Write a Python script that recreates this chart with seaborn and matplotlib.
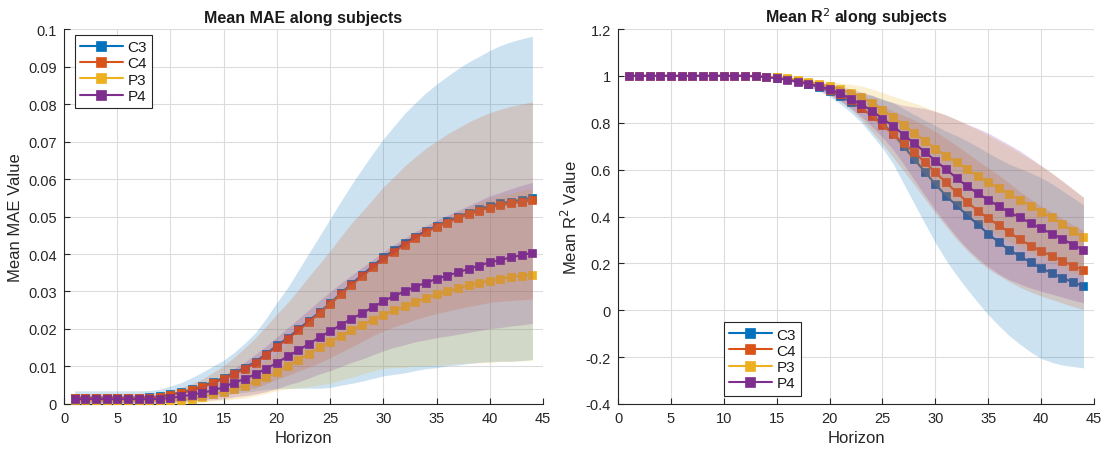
import matplotlib
matplotlib.use("Agg")
import matplotlib.pyplot as plt
from matplotlib.ticker import FuncFormatter
import numpy as np
import pandas as pd
import seaborn as sns

# ---------------- data ----------------
horizon = list(range(1, 45))
channels = ["C3", "C4", "P3", "P4"]
colors = ["#0072BD", "#D95319", "#EDB120", "#7E2F8E"]

# Mean MAE (left panel)
mae_C3 = [0.0017, 0.0017, 0.0017, 0.0017, 0.0017, 0.0017, 0.0017, 0.0018, 0.0020, 0.0026,
          0.0031, 0.0039, 0.0048, 0.0059, 0.0070, 0.0083, 0.0097, 0.0113, 0.0134, 0.0156,
          0.0176, 0.0199, 0.0222, 0.0245, 0.0269, 0.0295, 0.0320, 0.0344, 0.0368, 0.0391,
          0.0410, 0.0429, 0.0446, 0.0462, 0.0475, 0.0488, 0.0499, 0.0510, 0.0519, 0.0528,
          0.0535, 0.0540, 0.0545, 0.0550]
mae_C4 = [0.0016, 0.0016, 0.0016, 0.0016, 0.0016, 0.0016, 0.0016, 0.0017, 0.0019, 0.0024,
          0.0029, 0.0036, 0.0045, 0.0056, 0.0067, 0.0080, 0.0094, 0.0110, 0.0131, 0.0153,
          0.0173, 0.0196, 0.0219, 0.0242, 0.0266, 0.0292, 0.0317, 0.0340, 0.0364, 0.0387,
          0.0406, 0.0425, 0.0442, 0.0458, 0.0471, 0.0484, 0.0495, 0.0506, 0.0515, 0.0524,
          0.0530, 0.0535, 0.0539, 0.0543]
mae_P3 = [0.0010, 0.0010, 0.0009, 0.0009, 0.0009, 0.0009, 0.0009, 0.0009, 0.0009, 0.0009,
          0.0011, 0.0014, 0.0019, 0.0026, 0.0032, 0.0040, 0.0049, 0.0061, 0.0072, 0.0085,
          0.0102, 0.0118, 0.0134, 0.0151, 0.0166, 0.0182, 0.0196, 0.0211, 0.0225, 0.0238,
          0.0250, 0.0260, 0.0272, 0.0282, 0.0292, 0.0300, 0.0309, 0.0316, 0.0323, 0.0329,
          0.0334, 0.0338, 0.0342, 0.0345]
mae_P4 = [0.0013, 0.0013, 0.0013, 0.0013, 0.0013, 0.0013, 0.0013, 0.0013, 0.0013, 0.0016,
          0.0020, 0.0025, 0.0030, 0.0036, 0.0045, 0.0057, 0.0067, 0.0080, 0.0094, 0.0110,
          0.0127, 0.0143, 0.0160, 0.0178, 0.0194, 0.0211, 0.0227, 0.0242, 0.0258, 0.0274,
          0.0288, 0.0300, 0.0313, 0.0323, 0.0334, 0.0342, 0.0351, 0.0360, 0.0369, 0.0378,
          0.0384, 0.0391, 0.0397, 0.0403]

# Std of MAE (shaded band = mean +/- std)
mae_std_C3 = [0.0018, 0.0018, 0.0018, 0.0018, 0.0018, 0.0018, 0.0018, 0.0018, 0.0019, 0.0022,
              0.0026, 0.0031, 0.0037, 0.0042, 0.0047, 0.0055, 0.0066, 0.0078, 0.0095, 0.0115,
              0.0134, 0.0157, 0.0180, 0.0203, 0.0225, 0.0245, 0.0265, 0.0283, 0.0300, 0.0316,
              0.0331, 0.0346, 0.0357, 0.0368, 0.0378, 0.0386, 0.0395, 0.0402, 0.0408, 0.0415,
              0.0421, 0.0426, 0.0429, 0.0431]
mae_std_C4 = [0.0012, 0.0012, 0.0012, 0.0012, 0.0012, 0.0012, 0.0012, 0.0012, 0.0012, 0.0013,
              0.0015, 0.0018, 0.0022, 0.0028, 0.0035, 0.0045, 0.0056, 0.0067, 0.0077, 0.0087,
              0.0097, 0.0108, 0.0121, 0.0132, 0.0143, 0.0154, 0.0165, 0.0173, 0.0182, 0.0192,
              0.0200, 0.0210, 0.0217, 0.0224, 0.0230, 0.0236, 0.0241, 0.0246, 0.0250, 0.0253,
              0.0256, 0.0259, 0.0261, 0.0263]
mae_std_P3 = [0.0008, 0.0008, 0.0008, 0.0008, 0.0008, 0.0008, 0.0008, 0.0008, 0.0008, 0.0008,
              0.0009, 0.0011, 0.0014, 0.0018, 0.0022, 0.0027, 0.0033, 0.0039, 0.0044, 0.0049,
              0.0062, 0.0075, 0.0088, 0.0100, 0.0111, 0.0118, 0.0125, 0.0131, 0.0137, 0.0143,
              0.0153, 0.0162, 0.0171, 0.0180, 0.0188, 0.0195, 0.0201, 0.0207, 0.0213, 0.0218,
              0.0221, 0.0224, 0.0227, 0.0229]
mae_std_P4 = [0.0010, 0.0010, 0.0010, 0.0010, 0.0010, 0.0010, 0.0010, 0.0010, 0.0010, 0.0011,
              0.0013, 0.0016, 0.0020, 0.0025, 0.0031, 0.0038, 0.0045, 0.0053, 0.0061, 0.0069,
              0.0076, 0.0084, 0.0091, 0.0098, 0.0105, 0.0111, 0.0116, 0.0122, 0.0127, 0.0132,
              0.0137, 0.0142, 0.0147, 0.0152, 0.0157, 0.0161, 0.0165, 0.0169, 0.0173, 0.0177,
              0.0180, 0.0183, 0.0186, 0.0188]

# Mean R^2 (right panel)
r2_C3 = [1.000, 1.000, 1.000, 1.000, 1.000, 1.000, 1.000, 1.000, 1.000, 1.000,
         1.000, 1.000, 0.999, 0.997, 0.993, 0.987, 0.978, 0.966, 0.952, 0.934,
         0.913, 0.889, 0.862, 0.832, 0.797, 0.755, 0.700, 0.645, 0.591, 0.538,
         0.489, 0.447, 0.406, 0.366, 0.326, 0.290, 0.257, 0.230, 0.204, 0.180,
         0.159, 0.138, 0.120, 0.102]
r2_C4 = [1.000, 1.000, 1.000, 1.000, 1.000, 1.000, 1.000, 1.000, 1.000, 1.000,
         1.000, 1.000, 0.999, 0.997, 0.994, 0.988, 0.980, 0.969, 0.956, 0.940,
         0.921, 0.897, 0.864, 0.828, 0.790, 0.752, 0.713, 0.674, 0.632, 0.588,
         0.546, 0.503, 0.463, 0.425, 0.392, 0.362, 0.332, 0.302, 0.276, 0.253,
         0.232, 0.211, 0.190, 0.172]
r2_P3 = [1.000, 1.000, 1.000, 1.000, 1.000, 1.000, 1.000, 1.000, 1.000, 1.000,
         1.000, 1.000, 0.999, 0.997, 0.994, 0.990, 0.984, 0.976, 0.966, 0.955,
         0.943, 0.928, 0.910, 0.884, 0.855, 0.823, 0.790, 0.757, 0.723, 0.690,
         0.659, 0.631, 0.601, 0.574, 0.546, 0.520, 0.496, 0.471, 0.446, 0.421,
         0.396, 0.368, 0.339, 0.311]
r2_P4 = [1.000, 1.000, 1.000, 1.000, 1.000, 1.000, 1.000, 1.000, 1.000, 1.000,
         1.000, 1.000, 0.998, 0.995, 0.990, 0.984, 0.975, 0.966, 0.956, 0.943,
         0.925, 0.903, 0.879, 0.851, 0.818, 0.786, 0.749, 0.712, 0.676, 0.638,
         0.602, 0.564, 0.529, 0.499, 0.471, 0.443, 0.418, 0.396, 0.372, 0.349,
         0.327, 0.304, 0.280, 0.257]

r2_std_C3 = [0.001, 0.001, 0.001, 0.001, 0.001, 0.001, 0.001, 0.001, 0.001, 0.001,
             0.001, 0.001, 0.002, 0.003, 0.005, 0.007, 0.010, 0.013, 0.017, 0.022,
             0.032, 0.045, 0.060, 0.085, 0.105, 0.130, 0.160, 0.190, 0.220, 0.250,
             0.275, 0.298, 0.316, 0.332, 0.345, 0.356, 0.366, 0.375, 0.382, 0.386,
             0.381, 0.372, 0.360, 0.348]
r2_std_C4 = [0.001, 0.001, 0.001, 0.001, 0.001, 0.001, 0.001, 0.001, 0.001, 0.001,
             0.001, 0.001, 0.002, 0.003, 0.005, 0.007, 0.010, 0.013, 0.016, 0.020,
             0.028, 0.038, 0.050, 0.065, 0.080, 0.098, 0.118, 0.138, 0.157, 0.174,
             0.188, 0.200, 0.208, 0.213, 0.215, 0.214, 0.210, 0.204, 0.198, 0.192,
             0.186, 0.180, 0.174, 0.169]
r2_std_P3 = [0.001, 0.001, 0.001, 0.001, 0.001, 0.001, 0.001, 0.001, 0.001, 0.001,
             0.001, 0.001, 0.002, 0.003, 0.005, 0.007, 0.010, 0.013, 0.016, 0.020,
             0.027, 0.036, 0.047, 0.060, 0.074, 0.090, 0.108, 0.127, 0.145, 0.160,
             0.173, 0.183, 0.191, 0.197, 0.200, 0.202, 0.202, 0.200, 0.198, 0.195,
             0.190, 0.184, 0.178, 0.171]
r2_std_P4 = [0.001, 0.001, 0.001, 0.001, 0.001, 0.001, 0.001, 0.001, 0.001, 0.001,
             0.001, 0.001, 0.002, 0.003, 0.005, 0.007, 0.010, 0.013, 0.017, 0.022,
             0.030, 0.040, 0.052, 0.066, 0.080, 0.100, 0.125, 0.155, 0.185, 0.210,
             0.232, 0.250, 0.265, 0.277, 0.285, 0.288, 0.288, 0.284, 0.277, 0.268,
             0.258, 0.248, 0.237, 0.225]

mae_means = [mae_C3, mae_C4, mae_P3, mae_P4]
mae_stds = [mae_std_C3, mae_std_C4, mae_std_P3, mae_std_P4]
r2_means = [r2_C3, r2_C4, r2_P3, r2_P4]
r2_stds = [r2_std_C3, r2_std_C4, r2_std_P3, r2_std_P4]

# ---------------- style ----------------
sns.set_style("ticks")
plt.rcParams["font.family"] = ["Liberation Sans", "DejaVu Sans"]
plt.rcParams["axes.edgecolor"] = "#262626"
plt.rcParams["xtick.color"] = "#262626"
plt.rcParams["ytick.color"] = "#262626"
plt.rcParams["axes.labelcolor"] = "#262626"
plt.rcParams["text.color"] = "#1a1a1a"

fig = plt.figure(figsize=(11.06, 4.52), dpi=100)
ax1 = fig.add_axes([0.0579, 0.104, 0.4331, 0.8296])
ax2 = fig.add_axes([0.5588, 0.104, 0.4304, 0.8296])


def draw(ax, means, stds):
    handles = []
    for i, (name, col, m, s) in enumerate(zip(channels, colors, means, stds)):
        m = np.asarray(m)
        s = np.asarray(s)
        ax.fill_between(horizon, m - s, m + s, color=col, alpha=0.2,
                        linewidth=0, zorder=3 + 2 * i)
        df = pd.DataFrame({"Horizon": horizon, "val": m})
        sns.lineplot(data=df, x="Horizon", y="val", ax=ax, color=col,
                     marker="s", markersize=5.6, markeredgecolor=col,
                     markeredgewidth=0.5, linewidth=1.5, zorder=4 + 2 * i,
                     label=name, legend=False)
        handles.append(ax.lines[-1])
    return handles


h1 = draw(ax1, mae_means, mae_stds)
h2 = draw(ax2, r2_means, r2_stds)

fmt = FuncFormatter(lambda v, p: "%g" % round(v, 6))

for ax in (ax1, ax2):
    ax.set_xlim(0, 45)
    ax.set_xticks(range(0, 46, 5))
    ax.grid(True, color="#dcdcdc", linewidth=0.8, zorder=0)
    ax.set_axisbelow(True)
    for sp in ("top", "right"):
        ax.spines[sp].set_visible(False)
    for sp in ("left", "bottom"):
        ax.spines[sp].set_linewidth(0.8)
    ax.tick_params(direction="in", length=4, width=0.8, labelsize=10.5, pad=5)
    ax.yaxis.set_major_formatter(fmt)
    ax.set_xlabel("Horizon", fontsize=12, labelpad=4)

ax1.set_ylim(0, 0.1)
ax1.set_yticks(np.arange(0, 0.1001, 0.01))
ax1.set_ylabel("Mean MAE Value", fontsize=12, labelpad=4)
ax1.set_title("Mean MAE along subjects", fontsize=11.5, fontweight="bold", pad=5)

ax2.set_ylim(-0.4, 1.2)
ax2.set_yticks(np.arange(-0.4, 1.2001, 0.2))
ax2.set_ylabel("Mean R$^2$ Value", fontsize=12, labelpad=4)
ax2.set_title("Mean R$^2$ along subjects", fontsize=11.5, fontweight="bold", pad=5)

leg_kw = dict(fontsize=11, frameon=True, fancybox=False, framealpha=1,
              edgecolor="#262626", handlelength=2.8, handletextpad=0.3,
              labelspacing=0.15, borderpad=0.35, borderaxespad=0, numpoints=1,
              markerscale=1.2)
l1 = ax1.legend(h1, channels, loc="upper left", bbox_to_anchor=(0.022, 0.985), **leg_kw)
l2 = ax2.legend(h2, channels, loc="lower left", bbox_to_anchor=(0.222, 0.022), **leg_kw)
for l in (l1, l2):
    l.get_frame().set_linewidth(0.8)
    l.set_zorder(20)

fig.savefig("out.png", dpi=100)
